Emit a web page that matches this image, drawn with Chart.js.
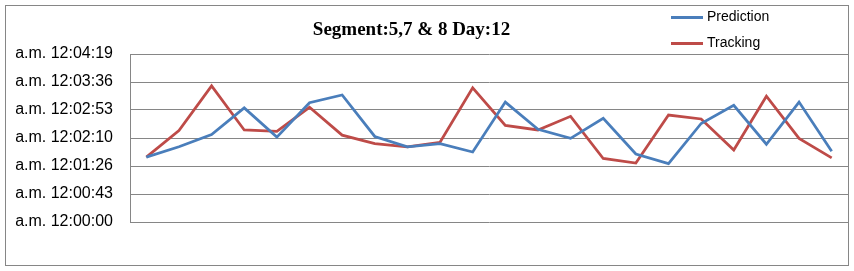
<!DOCTYPE html>
<html><head><meta charset="utf-8">
<style>html,body{margin:0;padding:0;background:#fff}#wrap{width:854px;height:271px}</style>
</head><body><div id="wrap"><canvas id="c" width="854" height="271"></canvas></div>
<script src="https://cdn.jsdelivr.net/npm/chart.js@4"></script>
<script>
const titleText = "Segment:5,7 & 8 Day:12";
const categories = [1,2,3,4,5,6,7,8,9,10,11,12,13,14,15,16,17,18,19,20,21,22];
// seconds after 12:00:00 a.m.
const prediction = [100, 116, 135, 176, 131, 184, 196, 132, 116, 121, 108, 185, 143, 129, 160, 105, 90, 152, 180, 120, 185, 109];
const tracking   = [100, 141, 210, 142, 140, 177, 134, 121, 116, 123, 207, 149, 142, 163, 98, 91, 165, 159, 111, 194, 129, 99];
const tickSeconds = [0, 43.2, 86.4, 129.6, 172.8, 216, 259.2];
const tickLabels = ["12:00:00","12:00:43","12:01:26","12:02:10","12:02:53","12:03:36","12:04:19"];
const meridiem = "a.m.";
const seriesNames = ["Prediction", "Tracking"];

const frame = {
  id: 'frame',
  beforeDraw(chart) {
    const ctx = chart.ctx;
    ctx.save();
    ctx.fillStyle = '#fff';
    ctx.fillRect(0, 0, chart.width, chart.height);
    ctx.strokeStyle = '#868686';
    ctx.lineWidth = 1;
    ctx.strokeRect(5.5, 5.5, 843, 260);
    ctx.restore();
  },
  afterDraw(chart) {
    const ctx = chart.ctx;
    ctx.save();
    ctx.fillStyle = '#000';
    ctx.font = 'bold 19px "Liberation Serif", "Times New Roman", serif';
    ctx.textAlign = 'center';
    ctx.textBaseline = 'middle';
    ctx.fillText(titleText, 411.5, 30);
    ctx.font = '14px "Liberation Sans", Arial, sans-serif';
    ctx.textAlign = 'left';
    chart.data.datasets.forEach((ds, i) => {
      const y = 17.5 + i * 26;
      ctx.strokeStyle = ds.borderColor;
      ctx.lineWidth = 3;
      ctx.beginPath();
      ctx.moveTo(671, y);
      ctx.lineTo(703, y);
      ctx.stroke();
      ctx.fillText(ds.label, 707, y);
    });
    ctx.restore();
  }
};

new Chart(document.getElementById('c'), {
  type: 'line',
  data: {
    labels: categories,
    datasets: [
      { label: seriesNames[0], data: prediction, borderColor: '#4A7EBB', borderWidth: 2.75, pointRadius: 0, tension: 0, fill: false },
      { label: seriesNames[1], data: tracking, borderColor: '#BE4B48', borderWidth: 2.75, pointRadius: 0, tension: 0, fill: false }
    ]
  },
  options: {
    responsive: false,
    devicePixelRatio: 1,
    animation: false,
    layout: { padding: { top: 54, right: 6, bottom: 49, left: 0 } },
    plugins: { legend: { display: false }, title: { display: false }, tooltip: { enabled: false } },
    scales: {
      x: { display: false, offset: true },
      y: {
        min: 0, max: 259.2,
        afterBuildTicks: s => { s.ticks = tickSeconds.map(v => ({ value: v })); },
        afterFit: s => { s.width = 130; },
        ticks: {
          autoSkip: false,
          padding: 17,
          color: '#000',
          font: { family: '"Liberation Sans", Arial, sans-serif', size: 16 },
          callback: (v, i) => meridiem + ' ' + tickLabels[i]
        },
        grid: { color: '#868686', lineWidth: 1, drawTicks: false },
        border: { color: '#868686', width: 1 }
      }
    }
  },
  plugins: [frame]
});
</script>
</body></html>
